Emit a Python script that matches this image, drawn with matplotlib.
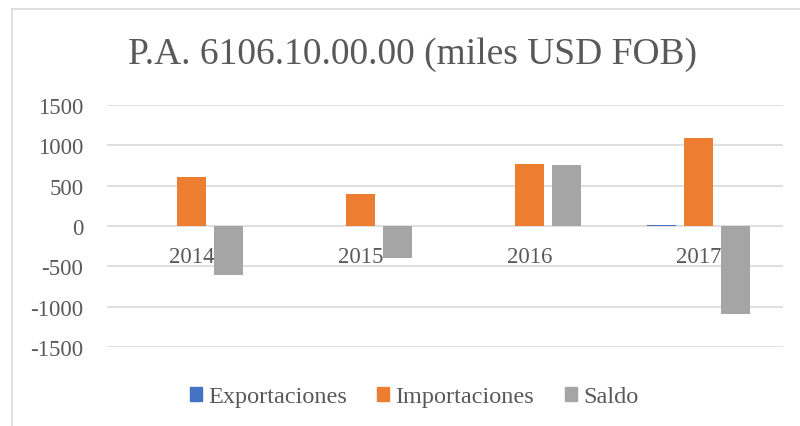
import numpy as np
import matplotlib.pyplot as plt
from matplotlib.patches import Patch
from matplotlib.lines import Line2D

plt.rcParams['font.family'] = ['Liberation Serif', 'DejaVu Serif']
plt.rcParams['axes.unicode_minus'] = False

# Data (miles USD FOB)
years = ['2014', '2015', '2016', '2017']
exportaciones = [0, 0, 4, 10]
importaciones = [610, 392, 765, 1085]
saldo = [-612, -395, 758, -1085]

series_names = ['Exportaciones', 'Importaciones', 'Saldo']
colors = ['#4472C4', '#ED7D31', '#A5A5A5']
text_color = '#595959'

fig = plt.figure(figsize=(8, 4.27), dpi=100)
ax = fig.add_axes([107 / 800, 1 - 348 / 427, (783 - 107) / 800, (348 - 106) / 427])

x = np.arange(len(years))
width = 0.172
offset = 0.219
for i, (vals, col) in enumerate(zip([exportaciones, importaciones, saldo], colors)):
    ax.bar(x + (i - 1) * offset, vals, width, color=col, zorder=3)

ax.set_xlim(-0.5, len(years) - 0.5)
ax.set_ylim(-1500, 1500)
ax.set_yticks(np.arange(-1500, 1501, 500))
ax.yaxis.grid(True, color='#d9d9d9', linewidth=1.2, zorder=0)
ax.set_axisbelow(True)
ax.tick_params(axis='y', length=0, labelsize=16.5, labelcolor=text_color, pad=17)
ax.set_xticks([])
for s in ax.spines.values():
    s.set_visible(False)

# category labels next to the zero line (bars drawn over them)
for i, yr in enumerate(years):
    ax.annotate(yr, (i, 0), xytext=(0, -14.5), textcoords='offset points',
                ha='center', va='top', fontsize=16.5, color=text_color, zorder=2)

fig.text(413 / 800, 1 - 64 / 427, 'P.A. 6106.10.00.00 (miles USD FOB)', ha='center',
         va='baseline', fontsize=27, color=text_color)

# chart area border
fig.add_artist(Line2D([12 / 800, 12 / 800], [0, 1 - 10 / 427], color='#d9d9d9', lw=1.2))
fig.add_artist(Line2D([12 / 800, 1], [1 - 10 / 427, 1 - 10 / 427], color='#d9d9d9', lw=1.2))

handles = [Patch(color=c, label=n) for c, n in zip(colors, series_names)]
leg = fig.legend(handles=handles, loc='center', bbox_to_anchor=(414 / 800, 1 - 398 / 427),
                 ncol=3, frameon=False, fontsize=17.5, handlelength=0.5, handleheight=0.5,
                 handletextpad=0.25, columnspacing=1.25)
for t in leg.get_texts():
    t.set_color(text_color)

fig.savefig('out.png', dpi=100)
